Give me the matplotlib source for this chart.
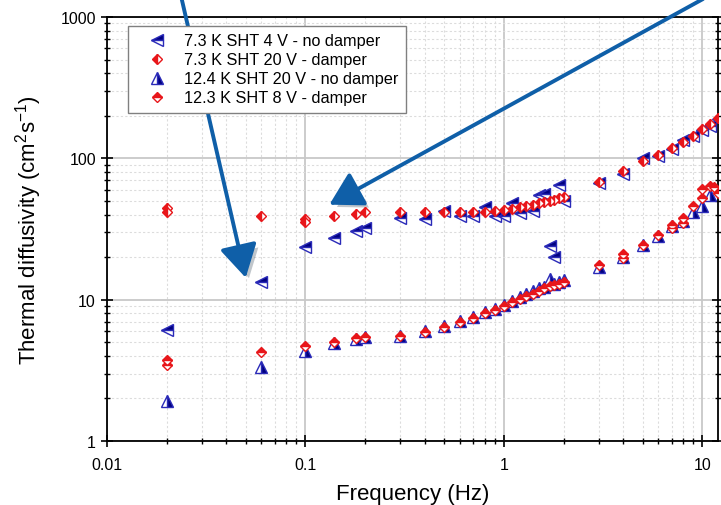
import numpy as np
import matplotlib
matplotlib.use("Agg")
import matplotlib.pyplot as plt
import matplotlib.patheffects as pe

plt.rcParams['font.family'] = ['Liberation Sans', 'DejaVu Sans']
plt.rcParams['mathtext.fontset'] = 'custom'
plt.rcParams['mathtext.rm'] = 'Liberation Sans'
plt.rcParams['mathtext.default'] = 'regular'

# 7.3 K SHT 4 V - no damper
s1_x = [0.02, 0.06, 0.1, 0.14, 0.18, 0.2, 0.3, 0.4, 0.5, 0.6, 0.7, 0.8, 0.9, 1.0,
        1.1, 1.2, 1.4, 1.5, 1.6, 1.7, 1.8, 1.9, 2.0, 3, 4, 5, 6, 7, 8, 9, 10, 11, 12]
s1_y = [6.1, 13.4, 23.4, 27.5, 30.4, 32.4, 38, 37.5, 42.7, 39.4, 39.4, 45.6, 39.4, 39.4,
        48, 40.8, 42.6, 54.6, 55.5, 23.8, 20.2, 64.5, 50, 66.5, 78, 100, 104.5, 117, 134,
        144, 158, 170, 190]

# 7.3 K SHT 20 V - damper
s2_x = [0.02, 0.02, 0.06, 0.1, 0.1, 0.14, 0.18, 0.2, 0.3, 0.4, 0.5, 0.6, 0.7, 0.8, 0.9,
        1.0, 1.1, 1.2, 1.3, 1.4, 1.5, 1.6, 1.7, 1.8, 1.9, 2.0, 3, 4, 5, 6, 7, 8, 9, 10,
        11, 12]
s2_y = [44.8, 41.5, 38.8, 37.5, 35.2, 38.8, 40.1, 41.5, 42, 41.5, 41.5, 42, 41.5, 42,
        42.5, 43, 44, 45, 46, 47, 48, 49, 50, 51, 52, 53, 67.5, 82, 95, 105, 118, 130,
        143, 160, 175, 192]

# 12.4 K SHT 20 V - no damper
s3_x = [0.02, 0.06, 0.1, 0.14, 0.18, 0.2, 0.3, 0.4, 0.5, 0.6, 0.7, 0.8, 0.9, 1.0, 1.1,
        1.2, 1.3, 1.4, 1.5, 1.6, 1.7, 1.8, 1.9, 2.0, 3, 4, 5, 6, 7, 8, 9, 10, 11]
s3_y = [1.92, 3.35, 4.35, 4.95, 5.3, 5.4, 5.55, 6.0, 6.5, 7.1, 7.6, 8.2, 8.6, 9.1, 9.8,
        10.4, 11.0, 11.5, 12.0, 12.3, 14.0, 13.0, 13.4, 13.8, 17.1, 20.2, 24.2, 28, 33,
        36.3, 42, 46, 54.6]

# 12.3 K SHT 8 V - damper
s4_x = [0.02, 0.02, 0.06, 0.1, 0.14, 0.18, 0.2, 0.3, 0.4, 0.5, 0.6, 0.7, 0.8, 0.9, 1.0,
        1.1, 1.2, 1.3, 1.4, 1.5, 1.6, 1.7, 1.8, 1.9, 2.0, 3, 4, 4, 5, 6, 7, 7, 8, 8, 9,
        10, 10, 11, 11.5, 12]
s4_y = [3.75, 3.46, 4.28, 4.7, 5.0, 5.35, 5.45, 5.5, 5.9, 6.4, 6.9, 7.4, 8.0, 8.5, 9.0,
        9.6, 10.1, 10.6, 11.0, 11.5, 12.0, 12.4, 12.7, 13.0, 13.3, 17.5, 21, 19.8, 24.5,
        28.5, 34, 32, 38, 35, 46, 61, 52, 64, 63, 57]

labels = ['7.3 K SHT 4 V - no damper', '7.3 K SHT 20 V - damper',
          '12.4 K SHT 20 V - no damper', '12.3 K SHT 8 V - damper']

navy = '#000080'
blue_edge = '#2a2ab8'
red = '#e8161a'

fig = plt.figure(figsize=(7.21, 5.06), dpi=100)
ax = fig.add_axes([0.1484, 0.1265, 0.8474, 0.8379])

ax.plot(s1_x, s1_y, ls='none', marker='<', ms=9, fillstyle='top',
        markerfacecolor=navy, markerfacecoloralt='white', markeredgecolor=blue_edge,
        markeredgewidth=1.0, label=labels[0], zorder=3)
ax.plot(s3_x, s3_y, ls='none', marker='^', ms=9, fillstyle='right',
        markerfacecolor=navy, markerfacecoloralt='white', markeredgecolor=blue_edge,
        markeredgewidth=1.0, label=labels[2], zorder=3)
ax.plot(s2_x, s2_y, ls='none', marker='D', ms=4.8, fillstyle='left',
        markerfacecolor=red, markerfacecoloralt='white', markeredgecolor=red,
        markeredgewidth=1.0, label=labels[1], zorder=4)
ax.plot(s4_x, s4_y, ls='none', marker='D', ms=4.8, fillstyle='top',
        markerfacecolor=red, markerfacecoloralt='white', markeredgecolor=red,
        markeredgewidth=1.0, label=labels[3], zorder=4)

ax.set_xscale('log')
ax.set_yscale('log')
ax.set_xlim(0.01, 12)
ax.set_ylim(1, 1000)

ax.set_xticks([0.01, 0.1, 1, 10])
ax.set_xticklabels(['0.01', '0.1', '1', '10'])
ax.set_yticks([1, 10, 100, 1000])
ax.set_yticklabels(['1', '10', '100', '1000'])

ax.grid(True, which='major', color='#c8c8c8', lw=1.3, ls='-')
ax.grid(True, which='minor', color='#dcdcdc', lw=0.8, ls=(0, (2, 2)))
ax.set_axisbelow(True)

ax.tick_params(which='major', direction='inout', length=9, width=1.2, labelsize=11.5,
               left=True, bottom=True, right=True, top=False)
ax.tick_params(axis='x', which='major', pad=7)
ax.tick_params(which='minor', direction='inout', length=5, width=1.0,
               left=True, bottom=True, right=True, top=False)
for sp in ax.spines.values():
    sp.set_linewidth(1.3)

ax.set_xlabel('Frequency (Hz)', fontsize=16, labelpad=8)
ax.set_ylabel('Thermal diffusivity (cm$^2$s$^{-1}$)', fontsize=16, labelpad=12)

# legend order as in the figure
handles, labs = ax.get_legend_handles_labels()
order = [0, 2, 1, 3]
leg = ax.legend([handles[i] for i in order], [labs[i] for i in order],
                loc='upper left', bbox_to_anchor=(0.034, 0.979), borderaxespad=0,
                fontsize=11.7, frameon=True, fancybox=False, edgecolor='#808080',
                framealpha=1, handletextpad=0.3, borderpad=0.45, labelspacing=0.25,
                handlelength=2.7)
leg.get_frame().set_linewidth(1.0)

# arrows
arrow_col = '#0f5fa8'
shadow = [pe.SimplePatchShadow(offset=(3, -3), alpha=0.25), pe.Normal()]
style = '-|>,head_length=2.0,head_width=1.15'
a1 = ax.annotate('', xy=(0.05, 14.3), xycoords='data', xytext=(0.252, 1.0),
                 textcoords='figure fraction',
                 arrowprops=dict(arrowstyle=style, color=arrow_col, lw=2.8,
                                 shrinkA=0, shrinkB=0),
                 annotation_clip=False)
a1.arrow_patch.set_path_effects(shadow)
a2 = ax.annotate('', xy=(0.132, 47), xycoords='data', xytext=(0.975, 1.0),
                 textcoords='figure fraction',
                 arrowprops=dict(arrowstyle=style, color=arrow_col, lw=2.8,
                                 shrinkA=0, shrinkB=0),
                 annotation_clip=False)
a2.arrow_patch.set_path_effects(shadow)

fig.savefig('out.png', dpi=100)
